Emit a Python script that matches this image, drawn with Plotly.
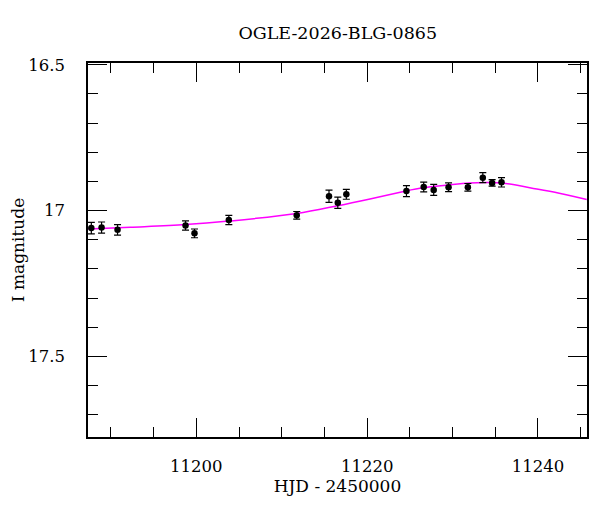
import plotly.graph_objects as go

# OGLE photometry
hjd = [11187.70, 11188.90, 11190.77, 11198.73, 11199.78, 11203.80, 11211.75,
       11215.53, 11216.56, 11217.56, 11224.60, 11226.62, 11227.79, 11229.53,
       11231.79, 11233.54, 11234.63, 11235.73]
mag = [17.060, 17.058, 17.066, 17.051, 17.078, 17.032, 17.016,
       16.951, 16.973, 16.944, 16.933, 16.919, 16.929, 16.920,
       16.920, 16.887, 16.905, 16.903]
err = [0.020, 0.019, 0.018, 0.016, 0.015, 0.016, 0.013,
       0.021, 0.019, 0.017, 0.019, 0.017, 0.019, 0.015,
       0.013, 0.017, 0.011, 0.016]

# model curve sampled from the plot
model_hjd = [11187.35, 11192.26, 11198.73, 11203.80, 11211.75, 11216.58,
             11220.33, 11224.66, 11226.18, 11229.45, 11232.02, 11234.71,
             11236.70, 11239.86, 11242.90, 11245.71]
model_mag = [17.063, 17.057, 17.048, 17.036, 17.010, 16.983,
             16.960, 16.932, 16.923, 16.912, 16.905, 16.904,
             16.909, 16.926, 16.943, 16.962]

FONT = "DejaVu Serif"

fig = go.Figure()
fig.add_trace(go.Scatter(x=model_hjd, y=model_mag, mode="lines",
                         line=dict(color="#ff00ff", width=1.5, shape="spline"),
                         hoverinfo="skip"))
fig.add_trace(go.Scatter(x=hjd, y=mag, mode="markers",
                         marker=dict(color="black", size=6.5),
                         error_y=dict(type="data", array=err, color="black",
                                      thickness=1.2, width=3.5)))

axis_common = dict(showline=True, linecolor="black", linewidth=1.5, mirror="ticks",
                   ticks="inside", tickcolor="black", ticklen=19, tickwidth=1,
                   showgrid=False, zeroline=False, automargin=False,
                   tickfont=dict(family=FONT, size=16.5, color="black"))

fig.update_xaxes(range=[11187.31, 11245.74], tickvals=[11200, 11220, 11240],
                 ticktext=["11200", "11220", "11240"], ticklabelstandoff=13,
                 minor=dict(dtick=5, tick0=11200, ticks="inside", ticklen=10,
                            tickcolor="black", tickwidth=1),
                 title=dict(text="HJD - 2450000", font=dict(family=FONT, size=17, color="black"),
                            standoff=3),
                 **axis_common)
fig.update_yaxes(range=[17.776, 16.494], tickvals=[16.5, 17, 17.5],
                 ticktext=["16.5", "17", "17.5"], ticklabelstandoff=18,
                 minor=dict(dtick=0.1, tick0=16.5, ticks="inside", ticklen=10,
                            tickcolor="black", tickwidth=1),
                 title=dict(text="I magnitude", font=dict(family=FONT, size=17, color="black"),
                            standoff=1),
                 **axis_common)

# page body has an 8px margin, so the figure is a bit smaller than the window
fig.update_layout(
    width=592, height=504,
    margin=dict(l=80, r=13, t=55, b=75),
    paper_bgcolor="white", plot_bgcolor="white",
    showlegend=False,
    title=dict(text="OGLE-2026-BLG-0865", x=0.557, xanchor="center", y=0.950, yanchor="middle",
               font=dict(family=FONT, size=17.5, color="black")),
)

fig.write_html("out.html")
